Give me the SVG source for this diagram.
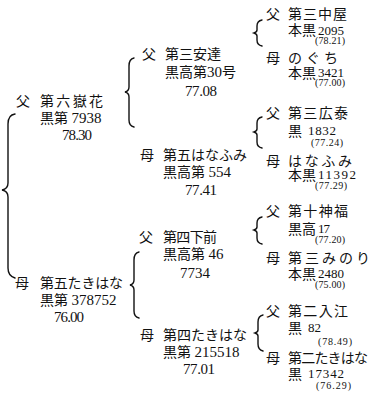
<svg xmlns="http://www.w3.org/2000/svg" width="375" height="399" viewBox="0 0 375 399">
<style>
text{font-family:"Liberation Serif","Noto Sans CJK JP",serif;fill:#111;}
.j{font-size:14px;}
.d{font-size:15px;}
.s{font-size:13px;}
.p{font-size:10px;}
.br{fill:none;stroke:#111;stroke-width:1.4;stroke-linecap:round;}
</style>
<rect width="375" height="399" fill="#fff"/>
<g id="connectors">
<path class="br" d="M15,114 Q8,115 8,124 L8,183 Q8,189 2,190 Q8,191 8,197 L8,268 Q8,276 15,278"/>
<path class="br" d="M134,58 Q129,59 129,66 L129,87 Q129,91 125,92 Q129,93 129,97 L129,120 Q129,126 134,127"/>
<path class="br" d="M139,252 Q134,253 134,260 L134,280 Q134,284 130,285 Q134,286 134,290 L134,311 Q134,317 139,318"/>
<path class="br" d="M262,20 Q257,21 257,26 L257,30 Q257,32 254,33 Q257,34 257,36 L257,40 Q257,45 262,46"/>
<path class="br" d="M262,117 Q257,118 257,123 L257,129 Q257,131 254,132 Q257,133 257,135 L257,142 Q257,147 262,148"/>
<path class="br" d="M262,217 Q257,218 257,223 L257,227 Q257,229 254,230 Q257,231 257,233 L257,238 Q257,243 262,244"/>
<path class="br" d="M263,315 Q258,316 258,322 L258,330 Q258,332 255,333 Q258,334 258,336 L258,344 Q258,350 263,351"/>
</g>
<g id="g1-sire">
<text class="j" x="16" y="106">父</text>
<text class="j" x="40" y="106" textLength="63">第六嶽花</text>
<text class="j" x="40" y="123">黒第 <tspan class="d">7938</tspan></text>
<text class="d" x="62" y="140" textLength="30">78.30</text>
</g>
<g id="g1-dam">
<text class="j" x="15" y="288">母</text>
<text class="j" x="40" y="288" textLength="83">第五たきはな</text>
<text class="j" x="40" y="305">黒第 <tspan class="d">378752</tspan></text>
<text class="d" x="54" y="322" textLength="30">76.00</text>
</g>
<g id="g2-ss">
<text class="j" x="142" y="59">父</text>
<text class="j" x="165" y="59" textLength="56">第三安達</text>
<text class="j" x="165" y="77">黒高第<tspan class="d">30</tspan>号</text>
<text class="d" x="185" y="96" textLength="32">77.08</text>
</g>
<g id="g2-sd">
<text class="j" x="140" y="160">母</text>
<text class="j" x="163" y="160" textLength="84">第五はなふみ</text>
<text class="j" x="163" y="177">黒高第 <tspan class="d">554</tspan></text>
<text class="d" x="185" y="195" textLength="32">77.41</text>
</g>
<g id="g2-ds">
<text class="j" x="139" y="242">父</text>
<text class="j" x="163" y="242" textLength="54">第四下前</text>
<text class="j" x="163" y="259">黒高第 <tspan class="d">46</tspan></text>
<text class="d" x="180" y="278" textLength="30">7734</text>
</g>
<g id="g2-dd">
<text class="j" x="140" y="340">母</text>
<text class="j" x="163" y="340" textLength="84">第四たきはな</text>
<text class="j" x="163" y="357">黒第 <tspan class="d">215518</tspan></text>
<text class="d" x="183" y="374" textLength="32">77.01</text>
</g>
<g id="g3-1">
<text class="j" x="266" y="19">父</text>
<text class="j" x="288" y="19" textLength="59">第三中屋</text>
<text class="j" x="288" y="35">本黒</text>
<text class="s" x="318" y="35" textLength="26">2095</text>
<text class="p" x="315" y="44" textLength="30">(78.21)</text>
</g>
<g id="g3-2">
<text class="j" x="266" y="63">母</text>
<text class="j" x="288" y="63" textLength="50">のぐち</text>
<text class="j" x="288" y="78">本黒</text>
<text class="s" x="318" y="77" textLength="26">3421</text>
<text class="p" x="315" y="86" textLength="30">(77.00)</text>
</g>
<g id="g3-3">
<text class="j" x="266" y="118">父</text>
<text class="j" x="288" y="118" textLength="60">第三広泰</text>
<text class="j" x="288" y="136">黒</text>
<text class="s" x="308" y="135" textLength="28">1832</text>
<text class="p" x="311" y="146" textLength="32">(77.24)</text>
</g>
<g id="g3-4">
<text class="j" x="266" y="166">母</text>
<text class="j" x="288" y="166" textLength="64">はなふみ</text>
<text class="j" x="288" y="180">本黒</text>
<text class="s" x="318" y="179" textLength="38">11392</text>
<text class="p" x="315" y="189" textLength="32">(77.29)</text>
</g>
<g id="g3-5">
<text class="j" x="266" y="216">父</text>
<text class="j" x="288" y="216" textLength="60">第十神福</text>
<text class="j" x="288" y="234">黒高</text>
<text class="s" x="318" y="233" textLength="12">17</text>
<text class="p" x="315" y="243" textLength="30">(77.20)</text>
</g>
<g id="g3-6">
<text class="j" x="266" y="263">母</text>
<text class="j" x="288" y="263" textLength="82">第三みのり</text>
<text class="j" x="288" y="279">本黒</text>
<text class="s" x="318" y="278" textLength="26">2480</text>
<text class="p" x="315" y="288" textLength="30">(75.00)</text>
</g>
<g id="g3-7">
<text class="j" x="266" y="316">父</text>
<text class="j" x="288" y="316" textLength="60">第二入江</text>
<text class="j" x="288" y="333">黒</text>
<text class="s" x="308" y="332" textLength="13">82</text>
<text class="p" x="318" y="345" textLength="34">(78.49)</text>
</g>
<g id="g3-8">
<text class="j" x="266" y="363">母</text>
<text class="j" x="288" y="363" textLength="80">第二たきはな</text>
<text class="j" x="288" y="379">黒</text>
<text class="s" x="308" y="378" textLength="36">17342</text>
<text class="p" x="316" y="389" textLength="35">(76.29)</text>
</g>
</svg>
